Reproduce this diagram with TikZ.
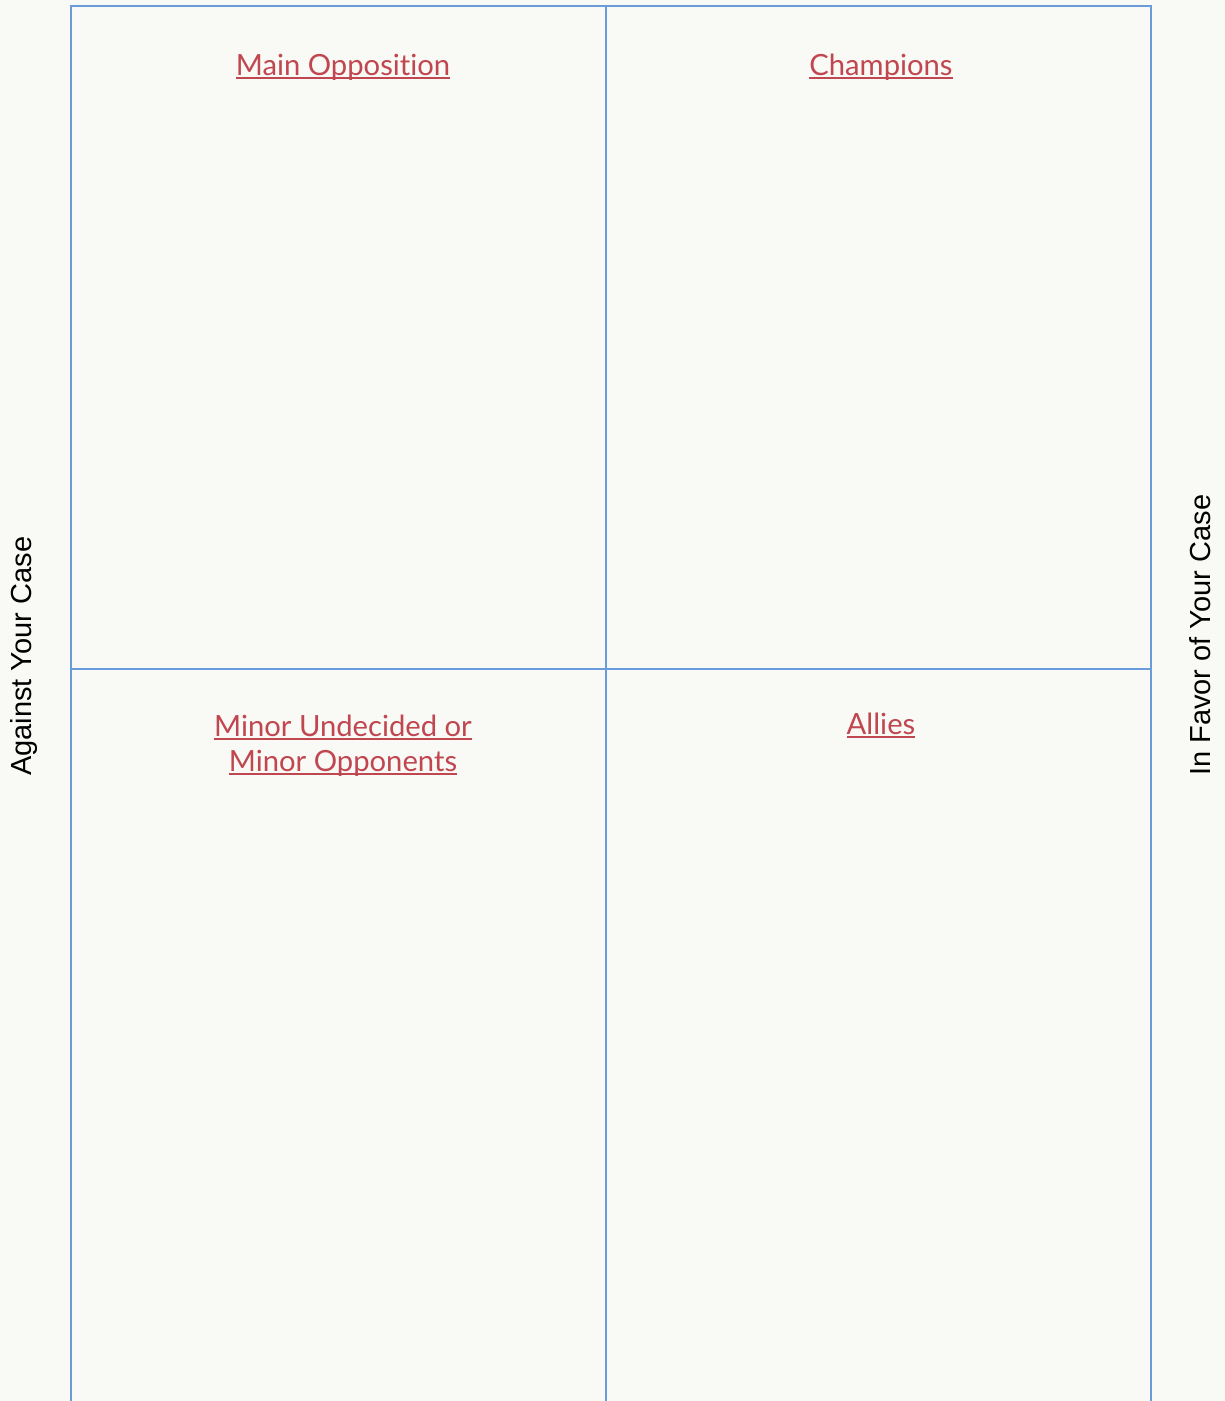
\documentclass[tikz,border=0pt]{standalone}
\usepackage{fontspec}
\setmainfont[Ligatures=NoCommon]{Lato}
\newfontfamily\sidefont{Liberation Sans}
\usetikzlibrary{positioning}
\definecolor{paper}{RGB}{249,249,245}
\definecolor{gridblue}{RGB}{106,155,219}
\definecolor{linkred}{RGB}{192,70,80}
% underlined heading text, rule at a fixed depth like a hyperlink
\newcommand{\linked}[1]{\setbox0\hbox{#1}\rlap{\rule[-4pt]{\wd0}{1.8pt}}\box0}
\tikzset{
  gridline/.style={draw=gridblue,line width=2.2pt},
  heading/.style={text=linkred,font=\fontsize{29.2}{35}\selectfont,inner sep=0pt,anchor=base,align=center},
  side/.style={font=\sidefont\fontsize{29}{34}\selectfont,inner sep=0pt,rotate=90,anchor=south west}
}

\begin{document}
\begin{tikzpicture}[x=1pt,y=-1pt]
  \fill[paper] (0,0) rectangle (1225,1401);
  \useasboundingbox (0,0) rectangle (1225,1401);

  % quadrant frame
  \draw[gridline] (71,1401) -- (71,6) -- (1151,6) -- (1151,1401);
  \draw[gridline] (606,6) -- (606,1401);
  \draw[gridline] (71,669) -- (1151,669);

  % quadrant headings
  \node[heading] (opposition) at (343,75) {\linked{Main Opposition}};
  \node[heading] (champions) at (881,75) {\linked{Champions}};
  \node[heading] (undecided) at (343,736) {\linked{Minor Undecided or}};
  \node[heading] (opponents) at (343,771) {\linked{Minor Opponents}};
  \node[heading] (allies) at (881,734) {\linked{Allies}};

  % axis labels
  \node[side] (against) at (38,776) {Against Your Case};
  \node[side] (favor) at (1211,776) {In Favor of Your Case};
\end{tikzpicture}
\end{document}
